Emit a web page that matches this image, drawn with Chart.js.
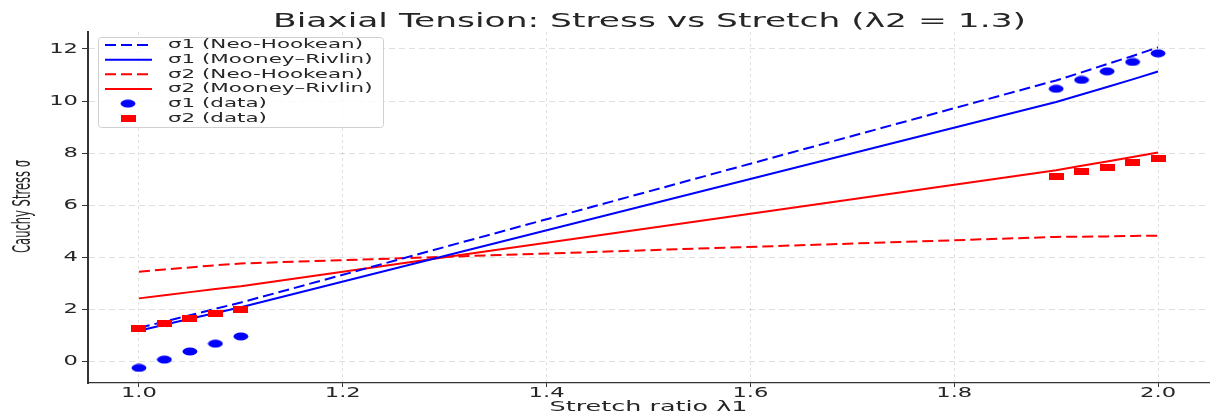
<!DOCTYPE html>
<html>
<head>
<meta charset="utf-8">
<script src="https://cdn.jsdelivr.net/npm/chart.js@4.4.1/dist/chart.umd.min.js"></script>
<style>
  html, body { margin: 0; padding: 0; background: #fff; }
  #chart { display: block; }
</style>
</head>
<body>
<canvas id="chart" width="1215" height="414"></canvas>
<script>
// stretch ratio samples
const lambda1 = [1.0, 1.025, 1.05, 1.075, 1.1, 1.9, 1.925, 1.95, 1.975, 2.0]

// model curves
const sigma1Neo = [1.28, 1.53, 1.77, 2.02, 2.26, 10.79, 11.10, 11.42, 11.73, 12.06]
const sigma1MR = [1.18, 1.41, 1.64, 1.86, 2.08, 9.96, 10.25, 10.54, 10.83, 11.13]
const sigma2Neo = [3.44, 3.53, 3.61, 3.69, 3.76, 4.78, 4.79, 4.80, 4.82, 4.83]
const sigma2MR = [2.42, 2.54, 2.66, 2.78, 2.89, 7.34, 7.51, 7.68, 7.85, 8.02]

// measured points
const sigma1Data = [-0.25, 0.07, 0.38, 0.68, 0.96, 10.47, 10.81, 11.14, 11.50, 11.83]
const sigma2Data = [1.28, 1.47, 1.65, 1.82, 1.99, 7.09, 7.28, 7.46, 7.63, 7.81]

const xTicks = [1.0, 1.2, 1.4, 1.6, 1.8, 2.0]
const xTickLabels = ['1.0', '1.2', '1.4', '1.6', '1.8', '2.0']
const yTicks = [0, 2, 4, 6, 8, 10, 12]
const yTickLabels = ['0', '2', '4', '6', '8', '10', '12']

const titleText = 'Biaxial Tension: Stress vs Stretch (λ2 = 1.3)'
const xLabel = 'Stretch ratio λ1'
const yLabel = 'Cauchy Stress σ'

const colors = {
  s1: '#0000ff',
  s2: '#ff0000',
  text: '#262626',
  axis: '#333333',
  grid: 'rgba(0,0,0,0.12)'
}
const FONT = '"DejaVu Sans", sans-serif'
const dashed = [11, 5]

function toXY (ys) {
  return lambda1.map((x, i) => ({ x: x, y: ys[i] }))
}

// flattened markers (the picture is stretched sideways)
function ellipseMarker (color) {
  const c = document.createElement('canvas')
  c.width = 16
  c.height = 9
  const g = c.getContext('2d')
  g.fillStyle = color
  g.beginPath()
  g.ellipse(8, 4.5, 7.4, 4, 0, 0, Math.PI * 2)
  g.fill()
  return c
}

function rectMarker (color) {
  const c = document.createElement('canvas')
  c.width = 15
  c.height = 7
  const g = c.getContext('2d')
  g.fillStyle = color
  g.fillRect(0, 0, 15, 7)
  return c
}

const dotBlue = ellipseMarker(colors.s1)
const squareRed = rectMarker(colors.s2)

const legendItems = [
  { label: 'σ1 (Neo-Hookean)', color: colors.s1, dash: dashed },
  { label: 'σ1 (Mooney–Rivlin)', color: colors.s1, dash: [] },
  { label: 'σ2 (Neo-Hookean)', color: colors.s2, dash: dashed },
  { label: 'σ2 (Mooney–Rivlin)', color: colors.s2, dash: [] },
  { label: 'σ1 (data)', marker: dotBlue },
  { label: 'σ2 (data)', marker: squareRed }
]

function stretchedText (ctx, text, x, y, size, sx, align, baseline, rot) {
  ctx.save()
  ctx.translate(x, y)
  ctx.scale(sx, 1)
  if (rot) ctx.rotate(rot)
  ctx.font = size + 'px ' + FONT
  ctx.textAlign = align
  ctx.textBaseline = baseline
  ctx.fillStyle = colors.text
  ctx.fillText(text, 0, 0)
  ctx.restore()
}

function widthAt (ctx, text, size) {
  ctx.save()
  ctx.font = size + 'px ' + FONT
  const w = ctx.measureText(text).width
  ctx.restore()
  return w
}

const textPlugin = {
  id: 'mplText',
  afterDraw (chart) {
    const ctx = chart.ctx
    const xs = chart.scales.x
    const ys = chart.scales.y
    const area = chart.chartArea

    // title
    const tSize = 19
    stretchedText(ctx, titleText, (area.left + area.right) / 2 + 1, 27, tSize,
      753 / widthAt(ctx, titleText, tSize), 'center', 'alphabetic')

    // tick labels
    const tickSize = 14.5
    const tickSx = 36 / widthAt(ctx, '1.0', tickSize)
    xTicks.forEach((v, i) => {
      stretchedText(ctx, xTickLabels[i], xs.getPixelForValue(v), 397, tickSize, tickSx, 'center', 'alphabetic')
    })
    yTicks.forEach((v, i) => {
      stretchedText(ctx, yTickLabels[i], 78, ys.getPixelForValue(v), tickSize, tickSx, 'right', 'middle')
    })

    // axis labels
    const xlSize = 14.5
    stretchedText(ctx, xLabel, (area.left + area.right) / 2, 411, xlSize,
      198 / widthAt(ctx, xLabel, xlSize), 'center', 'alphabetic')
    const ylSize = 11 * 93 / widthAt(ctx, yLabel, 11)
    stretchedText(ctx, yLabel, 30, 206.5, ylSize, 2.1, 'center', 'alphabetic', -Math.PI / 2)

    // legend box
    ctx.save()
    ctx.beginPath()
    ctx.roundRect(98.5, 37.5, 285, 90, 3)
    ctx.fillStyle = 'rgba(255,255,255,0.8)'
    ctx.fill()
    ctx.strokeStyle = '#d0d0d0'
    ctx.lineWidth = 1
    ctx.stroke()
    ctx.restore()

    const lgSize = 11.5
    const lgSx = 195 / widthAt(ctx, legendItems[0].label, lgSize)
    legendItems.forEach((item, i) => {
      const y = 45 + i * 14.65
      if (item.marker) {
        ctx.drawImage(item.marker, 128 - item.marker.width / 2, y - item.marker.height / 2)
      } else {
        ctx.save()
        ctx.strokeStyle = item.color
        ctx.lineWidth = 2
        ctx.setLineDash(item.dash)
        ctx.beginPath()
        ctx.moveTo(105, y)
        ctx.lineTo(152, y)
        ctx.stroke()
        ctx.restore()
      }
      stretchedText(ctx, item.label, 168, y + 0.5, lgSize, lgSx, 'left', 'middle')
    })
  }
}

const lineDataset = (label, ys, color, dash) => ({
  label: label,
  data: toXY(ys),
  showLine: true,
  borderColor: color,
  backgroundColor: color,
  borderWidth: 2,
  borderDash: dash,
  pointRadius: 0,
  tension: 0,
  order: 2
})

const pointDataset = (label, ys, marker) => ({
  label: label,
  data: toXY(ys),
  showLine: false,
  pointStyle: marker,
  pointRadius: 5,
  order: 1
})

new Chart(document.getElementById('chart'), {
  type: 'scatter',
  data: {
    datasets: [
      lineDataset('σ1 (Neo-Hookean)', sigma1Neo, colors.s1, dashed),
      lineDataset('σ1 (Mooney–Rivlin)', sigma1MR, colors.s1, []),
      lineDataset('σ2 (Neo-Hookean)', sigma2Neo, colors.s2, dashed),
      lineDataset('σ2 (Mooney–Rivlin)', sigma2MR, colors.s2, []),
      pointDataset('σ1 (data)', sigma1Data, dotBlue),
      pointDataset('σ2 (data)', sigma2Data, squareRed)
    ]
  },
  options: {
    responsive: false,
    animation: false,
    devicePixelRatio: 1,
    layout: { padding: { top: 32, right: 1, left: 0, bottom: 0 } },
    plugins: {
      legend: { display: false },
      title: { display: false },
      tooltip: { enabled: false }
    },
    scales: {
      x: {
        type: 'linear',
        min: 0.95,
        max: 2.05,
        afterBuildTicks: scale => { scale.ticks = xTicks.map(v => ({ value: v })) },
        afterFit: scale => { scale.height = 31 },
        ticks: { display: false },
        grid: { color: colors.grid, lineWidth: 1, tickLength: 4, tickColor: colors.axis, tickBorderDash: [] },
        border: { display: true, color: colors.axis, width: 1.2, dash: [3, 3] }
      },
      y: {
        type: 'linear',
        min: -0.83,
        max: 12.65,
        afterBuildTicks: scale => { scale.ticks = yTicks.map(v => ({ value: v })) },
        afterFit: scale => { scale.width = 88 },
        ticks: { display: false },
        grid: { color: colors.grid, lineWidth: 1, tickLength: 6, tickColor: colors.axis, tickBorderDash: [] },
        border: { display: true, color: colors.axis, width: 2, dash: [6, 4] }
      }
    }
  },
  plugins: [textPlugin]
})
</script>
</body>
</html>
